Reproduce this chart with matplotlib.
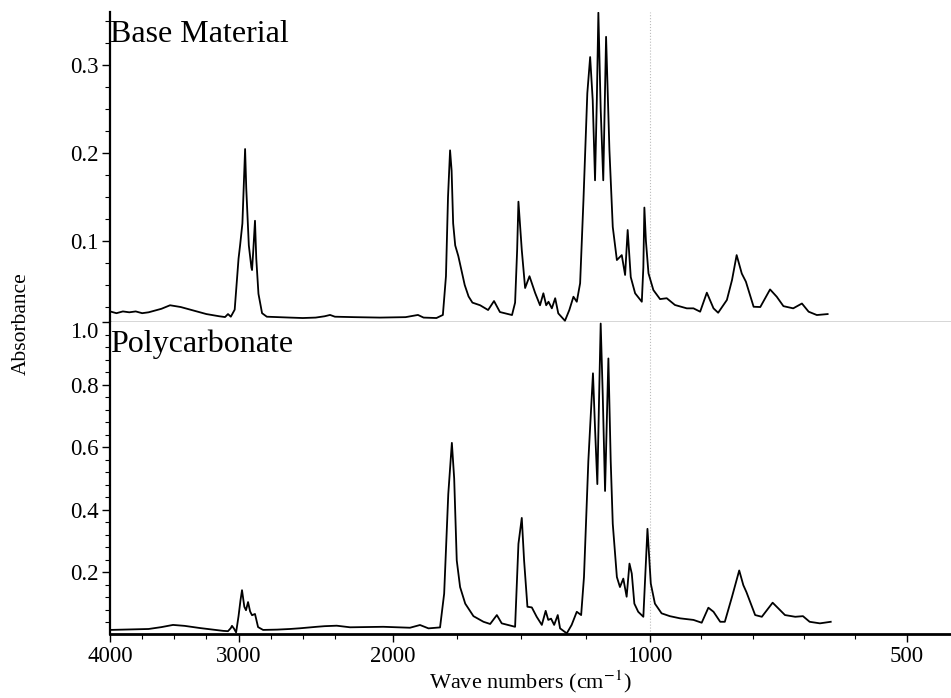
import numpy as np
import matplotlib.pyplot as plt
from matplotlib.ticker import FixedLocator, MultipleLocator

plt.rcParams['font.family'] = ['Liberation Serif', 'DejaVu Serif']
plt.rcParams['mathtext.fontset'] = 'stix'

# 上图: Base Material 光谱 (波数, 吸光度)
base_wn = [4000, 3950, 3900, 3850, 3800, 3750, 3700, 3650, 3600, 3533, 3450, 3350,
           3250, 3150, 3105, 3082, 3060, 3030, 3000, 2988, 2970, 2958, 2949, 2940,
           2920, 2900, 2895, 2885, 2872, 2862, 2845, 2817, 2780, 2700, 2600, 2500,
           2400, 2330, 2288, 2250, 2150, 2050, 1950, 1902, 1880, 1830, 1805, 1793,
           1785, 1777, 1771, 1765, 1757, 1745, 1735, 1720, 1705, 1690, 1660, 1629,
           1606, 1583, 1536, 1524, 1516, 1511, 1505, 1498, 1485, 1468, 1446, 1427,
           1414, 1403, 1394, 1381, 1368, 1356, 1330, 1313, 1297, 1284, 1271, 1258,
           1243, 1232, 1222, 1213, 1206, 1200, 1191, 1181, 1170, 1157, 1144, 1128,
           1109, 1096, 1086, 1074, 1057, 1031, 1025, 1021, 1015, 1005, 993, 980,
           967, 951, 928, 915, 902, 889, 876, 867, 850, 840, 831, 821,
           813, 798, 785, 766, 753, 740, 721, 704, 691, 675, 654]
base_abs = [0.020, 0.018, 0.020, 0.019, 0.020, 0.018, 0.019, 0.021, 0.023, 0.027, 0.025, 0.021,
            0.017, 0.0145, 0.0136, 0.017, 0.014, 0.022, 0.080, 0.095, 0.120, 0.170, 0.2045, 0.160,
            0.095, 0.070, 0.067, 0.090, 0.123, 0.080, 0.040, 0.018, 0.014, 0.0135, 0.013, 0.0125,
            0.013, 0.0145, 0.016, 0.014, 0.0135, 0.013, 0.0135, 0.016, 0.013, 0.0125, 0.016, 0.060,
            0.150, 0.203, 0.180, 0.120, 0.095, 0.083, 0.070, 0.050, 0.037, 0.030, 0.027, 0.0216,
            0.0318, 0.0193, 0.0159, 0.030, 0.090, 0.1447, 0.120, 0.0898, 0.0466, 0.060, 0.041, 0.027,
            0.0406, 0.027, 0.031, 0.0235, 0.035, 0.0178, 0.0094, 0.0216, 0.0367, 0.031, 0.052, 0.1466,
            0.268, 0.309, 0.260, 0.169, 0.260, 0.3594, 0.250, 0.169, 0.332, 0.2034, 0.116, 0.0784,
            0.084, 0.0614, 0.1125, 0.059, 0.0406, 0.031, 0.070, 0.138, 0.100, 0.0633, 0.0443, 0.034,
            0.035, 0.0273, 0.0235, 0.0235, 0.0197, 0.0413, 0.0235, 0.0185, 0.033, 0.0557, 0.084, 0.063,
            0.0538, 0.0253, 0.025, 0.045, 0.0367, 0.026, 0.0235, 0.029, 0.0197, 0.0159, 0.017]

# 下图: Polycarbonate 光谱
pc_wn = [4000, 3900, 3800, 3700, 3600, 3510, 3420, 3300, 3200, 3120, 3082, 3060,
         3051, 3035, 3019, 3000, 2985, 2973, 2955, 2942, 2926, 2910, 2895, 2872,
         2848, 2809, 2700, 2600, 2521, 2392, 2330, 2236, 2166, 2037, 1933, 1894,
         1861, 1816, 1800, 1784, 1770, 1761, 1751, 1738, 1718, 1686, 1647, 1621,
         1595, 1576, 1524, 1511, 1498, 1489, 1476, 1459, 1440, 1420, 1405, 1395,
         1384, 1372, 1358, 1349, 1323, 1304, 1284, 1267, 1256, 1239, 1221, 1213,
         1204, 1197, 1191, 1183, 1174, 1161, 1152, 1144, 1128, 1116, 1103, 1090,
         1079, 1070, 1060, 1045, 1025, 1009, 998, 990, 977, 961, 941, 915,
         899, 886, 876, 863, 854, 840, 826, 818, 812, 795, 782, 761,
         750, 737, 717, 702, 689, 669, 648]
pc_abs = [0.016, 0.017, 0.018, 0.019, 0.025, 0.032, 0.029, 0.022, 0.017, 0.013, 0.012, 0.022,
          0.029, 0.020, 0.008, 0.060, 0.110, 0.143, 0.090, 0.079, 0.105, 0.075, 0.063, 0.067,
          0.025, 0.016, 0.017, 0.019, 0.0213, 0.026, 0.028, 0.0295, 0.0244, 0.026, 0.023, 0.0317,
          0.021, 0.024, 0.132, 0.450, 0.6137, 0.500, 0.238, 0.153, 0.100, 0.060, 0.042, 0.035,
          0.0635, 0.037, 0.026, 0.291, 0.374, 0.238, 0.090, 0.088, 0.058, 0.032, 0.077, 0.048,
          0.052, 0.032, 0.0635, 0.021, 0.005, 0.032, 0.074, 0.0635, 0.185, 0.556, 0.836, 0.661,
          0.482, 0.767, 0.995, 0.767, 0.460, 0.8835, 0.556, 0.355, 0.185, 0.153, 0.180, 0.122,
          0.228, 0.196, 0.100, 0.074, 0.058, 0.339, 0.164, 0.100, 0.069, 0.060, 0.053, 0.048,
          0.039, 0.087, 0.074, 0.042, 0.042, 0.122, 0.206, 0.159, 0.137, 0.0635, 0.058, 0.103,
          0.085, 0.0635, 0.058, 0.060, 0.042, 0.037, 0.042]

x_major = [4000, 3000, 2000, 1000, 500]
x_minor = [3750, 3500, 3250, 2750, 2500, 2250, 1750, 1500, 1250, 900, 800, 700, 600, 400]

# 分段线性波数轴: 4000-2200, 2200-1000, 1000-400 三段比例不同
NU_BRK = [400, 1000, 2200, 4000]
U_BRK = [0, 1200, 2400, 3300]


def fwd(x):
    return np.interp(x, NU_BRK, U_BRK)


def inv(u):
    return np.interp(u, U_BRK, NU_BRK)


fig = plt.figure(figsize=(9.51, 6.98), dpi=100)
ax1 = fig.add_axes([0.1157, 0.5387, 0.8843, 0.4441])
ax2 = fig.add_axes([0.1157, 0.0917, 0.8843, 0.4470])

for ax in (ax1, ax2):
    ax.set_xscale('function', functions=(fwd, inv))
    ax.set_xlim(4000, 414)
    ax.spines['top'].set_visible(False)
    ax.spines['right'].set_visible(False)
    ax.spines['left'].set_linewidth(1.6)
    ax.axvline(1000, color='#bbbbbb', ls=':', lw=0.8, zorder=0)
    ax.tick_params(axis='y', which='major', direction='out', length=6, width=1, labelsize=16.5, pad=2)
    ax.tick_params(axis='y', which='minor', direction='out', length=3.5, width=0.8)

ax1.plot(base_wn, base_abs, color='black', lw=1.3)
ax2.plot(pc_wn, pc_abs, color='black', lw=1.3)

# 上图
ax1.set_ylim(0.008, 0.3602)
ax1.yaxis.set_major_locator(FixedLocator([0.1, 0.2, 0.3]))
ax1.yaxis.set_minor_locator(MultipleLocator(0.025))
ax1.set_yticklabels(['0.1', '0.2', '0.3'])
ax1.set_xticks([])
ax1.set_xticks([], minor=True)
ax1.spines['bottom'].set_linewidth(1.0)
ax1.spines['bottom'].set_color('#333333')
ax1.text(0.0, 0.903, 'Base Material', transform=ax1.transAxes, fontsize=23,
         ha='left', va='baseline')

# 下图
ax2.set_ylim(0.003, 1.0)
ax2.yaxis.set_major_locator(FixedLocator([0.2, 0.4, 0.6, 0.8, 1.0]))
ax2.yaxis.set_minor_locator(MultipleLocator(0.04))
ax2.set_yticklabels(['0.2', '0.4', '0.6', '0.8', '1.0'])
ax2.get_yticklabels()[-1].set_va('top')
ax2.xaxis.set_major_locator(FixedLocator(x_major))
ax2.xaxis.set_minor_locator(FixedLocator(x_minor))
ax2.set_xticklabels([str(v) for v in x_major])
ax2.spines['bottom'].set_linewidth(2.0)
ax2.tick_params(axis='x', which='major', direction='out', length=6, width=1, labelsize=16.5, pad=3)
ax2.tick_params(axis='x', which='minor', direction='out', length=3.5, width=0.8)
ax2.set_xlabel('Wave numbers (cm$^{-1}$)', fontsize=16, labelpad=1)
ax2.text(0.0, 0.904, 'Polycarbonate', transform=ax2.transAxes, fontsize=23,
         ha='left', va='baseline')

fig.text(0.022, 0.537, 'Absorbance', rotation=90, ha='center', va='center', fontsize=15.5)

fig.savefig('out.png', dpi=100)
